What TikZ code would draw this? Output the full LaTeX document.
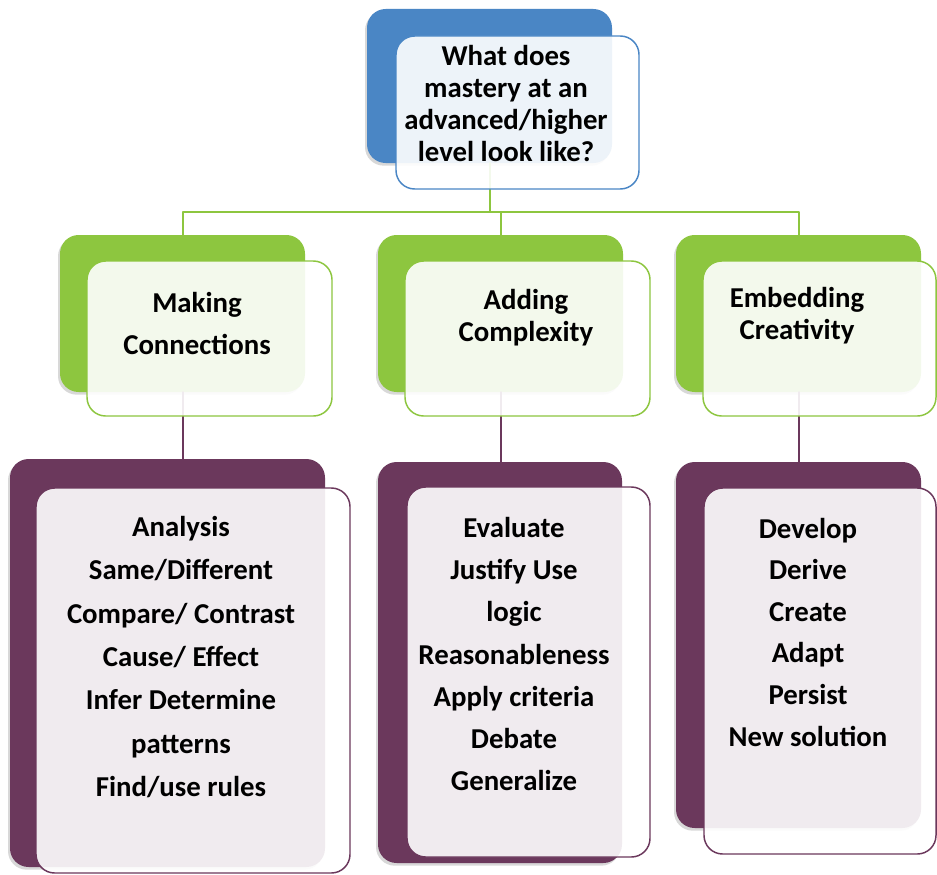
\documentclass[tikz,border=0pt]{standalone}
\usepackage{fontspec}
\setmainfont{Carlito}
\usetikzlibrary{shadows}
\definecolor{skyblue}{HTML}{4A86C5}
\definecolor{leafgreen}{HTML}{8DC63F}
\definecolor{plum}{HTML}{6B385C}
\tikzset{
	backbox/.style={rounded corners=14pt, inner sep=0pt, outer sep=0pt,
		drop shadow={shadow xshift=-1.5pt, shadow yshift=-2pt, opacity=0.3}},
	frontbox/.style={draw, line width=1.1pt, rounded corners=14pt, fill=white,
		fill opacity=0.9, inner sep=0pt, outer sep=0pt},
	boxtext/.style={font=\fontsize{21.6}{24}\selectfont\bfseries, align=center, inner sep=0pt},
	listtext/.style={font=\fontsize{21.6}{32.5}\selectfont\bfseries, align=center, inner sep=0pt},
	greenline/.style={leafgreen, line width=1.5pt},
	plumline/.style={plum, line width=1.5pt}
}
\begin{document}
\begin{tikzpicture}[x=0.75pt, y=-0.75pt, line join=round, line cap=round]
	\fill[white] (0,0) rectangle (937,874);
	\useasboundingbox (0,0) rectangle (937,874);
	% back boxes
	\node[backbox, fill=skyblue, minimum width=183.75pt, minimum height=115.5pt] (topb) at (489.5,86) {};
	\node[backbox, fill=leafgreen, minimum width=183.75pt, minimum height=117.75pt] (makeb) at (182.5,313.5) {};
	\node[backbox, fill=leafgreen, minimum width=183.75pt, minimum height=117.75pt] (compb) at (500.5,313.5) {};
	\node[backbox, fill=leafgreen, minimum width=183.75pt, minimum height=117.75pt] (creab) at (798.5,313.5) {};
	\node[backbox, fill=plum, minimum width=236.25pt, minimum height=306pt] (anab) at (167.5,663) {};
	\node[backbox, fill=plum, minimum width=183pt, minimum height=300.75pt] (evalb) at (500,662.5) {};
	\node[backbox, fill=plum, minimum width=183.75pt, minimum height=274.5pt] (devb) at (798.5,645) {};
	% connectors
	\coordinate (bus) at (0,212);
	\draw[greenline] (topb.south) -- (topb.south |- bus) -| (makeb.north);
	\draw[greenline] (topb.south |- bus) -| (compb.north);
	\draw[greenline] (topb.south |- bus) -| (creab.north);
	\draw[plumline] (makeb.south) -- (makeb.south |- anab.north);
	\draw[plumline] (compb.south) -- (compb.south |- evalb.north);
	\draw[plumline] (creab.south) -- (creab.south |- devb.north);
	% front boxes
	\node[frontbox, draw=skyblue, minimum width=182.25pt, minimum height=114.75pt] (topf) at (517.5,112.5) {};
	\node[frontbox, draw=leafgreen, minimum width=183.75pt, minimum height=116.25pt] (makef) at (209.5,338.5) {};
	\node[frontbox, draw=leafgreen, minimum width=183.75pt, minimum height=116.25pt] (compf) at (527.5,338.5) {};
	\node[frontbox, draw=leafgreen, minimum width=174.75pt, minimum height=116.25pt] (creaf) at (819.5,338.5) {};
	\node[frontbox, draw=plum, minimum width=235.5pt, minimum height=288.75pt] (anaf) at (193,680.5) {};
	\node[frontbox, draw=plum, minimum width=182.25pt, minimum height=277.5pt] (evalf) at (528.5,672) {};
	\node[frontbox, draw=plum, minimum width=174pt, minimum height=274.5pt] (devf) at (820,671) {};
	% texts
	\node[boxtext] (toptext) at (506,104) {What does\\mastery at an\\advanced/higher\\level look like?};
	\node[boxtext, font=\fontsize{21.6}{31.5}\selectfont\bfseries] (maketext) at (197,323) {Making\\Connections};
	\node[boxtext] (comptext) at (526,318) {Adding\\Complexity};
	\node[boxtext] (creatext) at (797,316) {Embedding\\Creativity};
	\node[listtext] (anatext) at (181,657) {Analysis\\Same/Different\\Compare/ Contrast\\Cause/ Effect\\Infer Determine\\patterns\\Find/use rules};
	\node[listtext, font=\fontsize{21.6}{31.7}\selectfont\bfseries] (evaltext) at (514,654) {Evaluate\\Justify Use\\logic\\Reasonableness\\Apply criteria\\Debate\\Generalize};
	\node[listtext, font=\fontsize{21.6}{31.2}\selectfont\bfseries] (devtext) at (808,632) {Develop\\Derive\\Create\\Adapt\\Persist\\New solution};
\end{tikzpicture}
\end{document}
